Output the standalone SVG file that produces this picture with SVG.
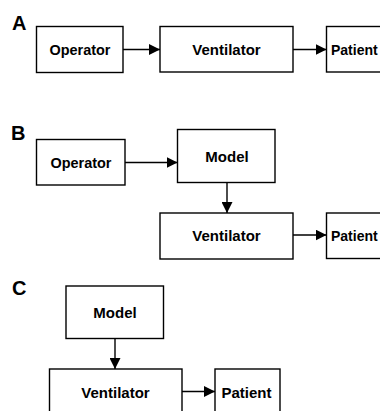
<svg xmlns="http://www.w3.org/2000/svg" width="380" height="411" viewBox="0 0 380 411">
<defs>
<marker id="ah" markerUnits="userSpaceOnUse" markerWidth="11" markerHeight="11" refX="11" refY="5.5" orient="auto">
<path d="M0,0 L11,5.5 L0,11 z" fill="#000"/>
</marker>
<style>
.box{fill:#fff;stroke:#000;stroke-width:1.4}
.t{font-family:"Liberation Sans",Arial,sans-serif;font-weight:bold;font-size:15px;fill:#000;text-anchor:middle}
.tp{font-family:"Liberation Sans",Arial,sans-serif;font-weight:bold;font-size:14px;fill:#000;text-anchor:start}
.lab{font-family:"Liberation Sans",Arial,sans-serif;font-weight:bold;font-size:20px;fill:#000}
.c{stroke:#000;stroke-width:1.4;fill:none;marker-end:url(#ah)}
</style>
</defs>
<rect width="380" height="411" fill="#fff"/>
<text class="lab" x="12" y="30">A</text>
<text class="lab" x="11" y="140">B</text>
<text class="lab" x="12" y="295">C</text>
<g id="connectors">
<line class="c" x1="123" y1="49.5" x2="160" y2="49.5"/>
<line class="c" x1="293" y1="49.5" x2="326.5" y2="49.5"/>
<line class="c" x1="125" y1="162.5" x2="177.5" y2="162.5"/>
<line class="c" x1="227" y1="182.5" x2="227" y2="213"/>
<line class="c" x1="293" y1="235" x2="326.5" y2="235"/>
<line class="c" x1="115" y1="338.5" x2="115" y2="369"/>
<line class="c" x1="182" y1="391.5" x2="215" y2="391.5"/>
</g>
<g id="a-operator"><rect class="box" x="36.5" y="26.5" width="86.5" height="46"/><text class="t" x="80" y="55" textLength="61" lengthAdjust="spacingAndGlyphs">Operator</text></g>
<g id="a-ventilator"><rect class="box" x="160" y="26.5" width="133" height="45.5"/><text class="t" x="226.5" y="54.5">Ventilator</text></g>
<g id="a-patient"><rect class="box" x="326.5" y="26.5" width="60" height="45.5"/><text class="tp" x="331" y="54.5">Patient</text></g>
<g id="b-operator"><rect class="box" x="36.5" y="139.5" width="88.5" height="45.5"/><text class="t" x="81" y="167.5" textLength="61" lengthAdjust="spacingAndGlyphs">Operator</text></g>
<g id="b-model"><rect class="box" x="177.5" y="129.5" width="97.5" height="53"/><text class="t" x="227" y="161.5">Model</text></g>
<g id="b-ventilator"><rect class="box" x="160" y="213" width="133" height="46"/><text class="t" x="226.5" y="241">Ventilator</text></g>
<g id="b-patient"><rect class="box" x="326.5" y="213" width="60" height="45.5"/><text class="tp" x="331" y="240.5">Patient</text></g>
<g id="c-model"><rect class="box" x="66" y="286" width="97.5" height="52.5"/><text class="t" x="115" y="318">Model</text></g>
<g id="c-ventilator"><rect class="box" x="49.5" y="369" width="132.5" height="50"/><text class="t" x="115.5" y="398">Ventilator</text></g>
<g id="c-patient"><rect class="box" x="215" y="369" width="65" height="50"/><text class="t" x="246.5" y="398">Patient</text></g>
</svg>
